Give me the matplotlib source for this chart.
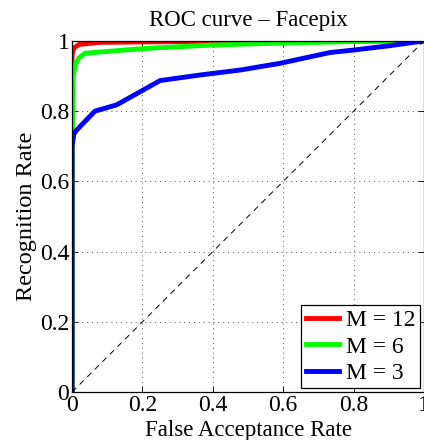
import matplotlib.pyplot as plt

plt.rcParams["font.family"] = ["Liberation Serif", "DejaVu Serif"]
plt.rcParams["mathtext.fontset"] = "stix"

# Kurvdata
far_12 = [0, 0, 0.005, 0.02, 0.08, 0.3, 1.0]
rr_12 = [0, 0.96, 0.98, 0.99, 0.996, 0.998, 1.0]

far_6 = [0, 0, 0.003, 0.01, 0.02, 0.037, 0.2, 0.39, 0.6, 0.85, 1.0]
rr_6 = [0, 0.70, 0.90, 0.935, 0.952, 0.965, 0.978, 0.988, 0.994, 0.999, 1.0]

far_3 = [0, 0, 0.005, 0.013, 0.065, 0.127, 0.25, 0.364, 0.477, 0.59, 0.733, 0.80, 0.90, 1.0]
rr_3 = [0, 0.70, 0.735, 0.746, 0.80, 0.818, 0.887, 0.903, 0.917, 0.936, 0.967, 0.974, 0.986, 1.0]

labels = ["M = 12", "M = 6", "M = 3"]
colors = ["#ff0000", "#00ff00", "#0000ff"]

fig = plt.figure(figsize=(4.24, 4.40), dpi=100)
ax = fig.add_axes([0.170, 0.109, 0.830, 0.798])

for x, y, lab, c in zip([far_12, far_6, far_3], [rr_12, rr_6, rr_3], labels, colors):
    ax.plot(x, y, color=c, linewidth=3.5, label=lab, solid_joinstyle="round")

ax.plot([0, 1], [0, 1], color="black", linestyle=(0, (6, 5)), linewidth=0.7)

ax.set_xlim(0, 1)
ax.set_ylim(0, 1)
ax.set_xticks([0, 0.2, 0.4, 0.6, 0.8, 1])
ax.set_yticks([0, 0.2, 0.4, 0.6, 0.8, 1])
ax.set_xticklabels(["0", "0.2", "0.4", "0.6", "0.8", "1"])
ax.set_yticklabels(["0", "0.2", "0.4", "0.6", "0.8", "1"])
ax.tick_params(direction="in", length=4, width=0.6, labelsize=17, top=True, right=True, pad=2)
ax.grid(True, color="#555555", linestyle=(0, (1, 4)), linewidth=0.7)
for s in ax.spines.values():
    s.set_linewidth(0.9)

ax.set_title("ROC curve \u2013 Facepix", fontsize=16.5, pad=11)
ax.set_xlabel("False Acceptance Rate", fontsize=16.5, labelpad=3)
ax.set_ylabel("Recognition Rate", fontsize=17.5, labelpad=2)

leg = ax.legend(loc="lower right", fontsize=17, frameon=True, fancybox=False,
                edgecolor="black", framealpha=1, handlelength=1.4, borderpad=0.2,
                labelspacing=0.2, handletextpad=0.3, borderaxespad=0.15)
leg.get_frame().set_linewidth(0.9)

fig.savefig("out.png", dpi=100)
